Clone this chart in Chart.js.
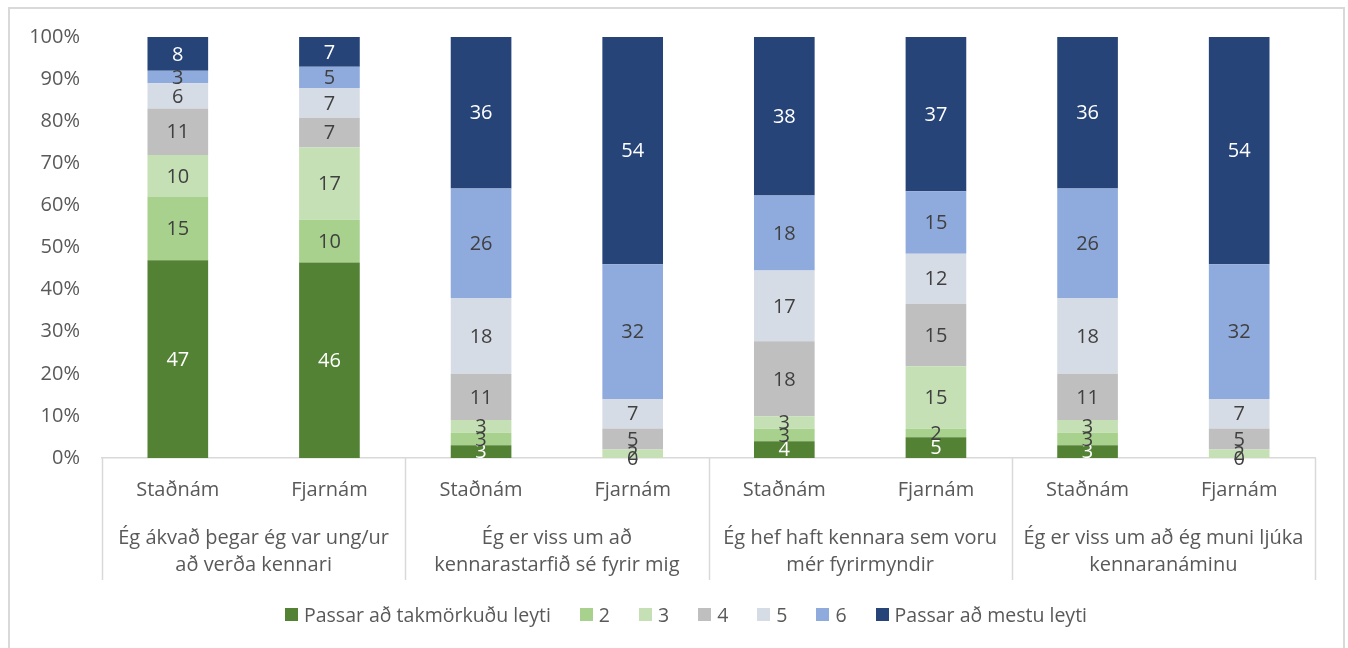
<!DOCTYPE html>
<html>
<head>
<meta charset="utf-8">
<script src="https://cdn.jsdelivr.net/npm/chart.js@4/dist/chart.umd.min.js"></script>
<style>
    html, body { margin: 0; padding: 0; background: #fff; }
    #wrap { position: relative; width: 1348px; height: 648px; overflow: hidden; }
    #frame { position: absolute; left: 8px; top: 7px; width: 1333px; height: 660px; border: 2px solid #d9d9d9; pointer-events: none; }
    #chart { position: absolute; left: 0; top: 0; }
    #legend { position: absolute; left: 0; top: 601px; width: 1372px; display: flex; justify-content: center; gap: 29px;
        font-family: 'Open Sans', sans-serif; font-size: 19.5px; color: #595959; line-height: 27px; }
    .legend-item { display: flex; align-items: center; white-space: nowrap; }
    .legend-box { width: 13px; height: 13px; margin-right: 6px; }
</style>
</head>
<body>
<div id="wrap">
    <canvas id="chart" width="1348" height="648"></canvas>
    <div id="frame"></div>
    <div id="legend"></div>
</div>
<script>
const subLabels = ['Staðnám', 'Fjarnám', 'Staðnám', 'Fjarnám', 'Staðnám', 'Fjarnám', 'Staðnám', 'Fjarnám'];
const groupLabels = [
    ['Ég ákvað þegar ég var ung/ur', 'að verða kennari'],
    ['Ég er viss um að', 'kennarastarfið sé fyrir mig'],
    ['Ég hef haft kennara sem voru', 'mér fyrirmyndir'],
    ['Ég er viss um að ég muni ljúka', 'kennaranáminu'],
];
const seriesNames = ['Passar að takmörkuðu leyti', '2', '3', '4', '5', '6', 'Passar að mestu leyti'];

const lowest = [47, 46, 3, 0, 4, 5, 3, 0];
const level2 = [15, 10, 3, 0, 3, 2, 3, 0];
const level3 = [10, 17, 3, 2, 3, 15, 3, 2];
const level4 = [11, 7, 11, 5, 18, 15, 11, 5];
const level5 = [6, 7, 18, 7, 17, 12, 18, 7];
const level6 = [3, 5, 26, 32, 18, 15, 26, 32];
const highest = [8, 7, 36, 54, 38, 37, 36, 54];

const yTicks = [0, 10, 20, 30, 40, 50, 60, 70, 80, 90, 100];

const seriesValues = [lowest, level2, level3, level4, level5, level6, highest];
const colors = ['#548235', '#a9d18e', '#c5e0b4', '#bfbfbf', '#d6dce5', '#8faadc', '#264478'];
const labelColors = ['#ffffff', '#404040', '#404040', '#404040', '#404040', '#404040', '#ffffff'];

const FONT = "'Open Sans', sans-serif";

// 100% stacked: each bar is scaled to its own total
const totals = subLabels.map((_, j) => seriesValues.reduce((sum, s) => sum + s[j], 0));
const toPercent = (values) => values.map((v, j) => (v / totals[j]) * 100);

const barLabels = {
    id: 'barLabels',
    afterDatasetsDraw(chart) {
        const { ctx } = chart;
        ctx.save();
        ctx.font = `20px ${FONT}`;
        ctx.textAlign = 'center';
        ctx.textBaseline = 'middle';
        chart.data.datasets.forEach((ds, i) => {
            const meta = chart.getDatasetMeta(i);
            meta.data.forEach((bar, j) => {
                ctx.fillStyle = labelColors[i];
                ctx.fillText(String(seriesValues[i][j]), bar.x, (bar.y + bar.base) / 2 + 1);
            });
        });
        ctx.restore();
    },
};

const groupLines = {
    id: 'groupLines',
    afterDraw(chart) {
        const { ctx, chartArea } = chart;
        const bottom = chart.scales.x2.bottom;
        const step = (chartArea.right - chartArea.left) / groupLabels.length;
        ctx.save();
        ctx.strokeStyle = '#d9d9d9';
        ctx.lineWidth = 1.5;
        for (let k = 0; k <= groupLabels.length; k++) {
            const x = Math.round(chartArea.left + k * step) + 0.5;
            ctx.beginPath();
            ctx.moveTo(x, chartArea.bottom);
            ctx.lineTo(x, bottom);
            ctx.stroke();
        }
        ctx.restore();
    },
};

const chart = new Chart(document.getElementById('chart'), {
    type: 'bar',
    data: {
        labels: subLabels,
        datasets: seriesNames.map((name, i) => ({
            label: name,
            data: toPercent(seriesValues[i]),
            backgroundColor: colors[i],
            barPercentage: 0.4,
            categoryPercentage: 1.0,
        })),
    },
    options: {
        responsive: false,
        animation: false,
        layout: { padding: { left: 10, right: 33, top: 37, bottom: 68 } },
        plugins: {
            legend: { display: false },
            tooltip: { enabled: false },
        },
        scales: {
            x: {
                stacked: true,
                grid: { display: false, drawTicks: false },
                border: { display: true, color: '#d9d9d9', width: 1.5 },
                ticks: { color: '#595959', font: { family: FONT, size: 20 }, padding: 20, maxRotation: 0, autoSkip: false },
                afterFit: (scale) => { scale.height = 62; },
            },
            x2: {
                type: 'category',
                labels: groupLabels,
                offset: true,
                position: 'bottom',
                grid: { display: false, drawTicks: false },
                border: { display: false },
                ticks: { color: '#595959', font: { family: FONT, size: 20, lineHeight: 1.35 }, padding: 5, maxRotation: 0, autoSkip: false },
                afterFit: (scale) => { scale.height = 60; },
            },
            y: {
                stacked: true,
                min: 0,
                max: 100,
                grid: { display: false, drawTicks: false },
                border: { display: false },
                afterBuildTicks: (scale) => { scale.ticks = yTicks.map((v) => ({ value: v })); },
                ticks: {
                    color: '#595959',
                    font: { family: FONT, size: 20 },
                    padding: 22,
                    callback: (v) => `${v}%`,
                },
                afterFit: (scale) => { scale.width = 92; },
            },
        },
    },
    plugins: [barLabels, groupLines],
});

const legendEl = document.getElementById('legend');
seriesNames.forEach((name, i) => {
    const item = document.createElement('div');
    item.className = 'legend-item';
    const box = document.createElement('span');
    box.className = 'legend-box';
    box.style.background = colors[i];
    const text = document.createElement('span');
    text.textContent = name;
    item.append(box, text);
    legendEl.appendChild(item);
});
</script>
</body>
</html>
